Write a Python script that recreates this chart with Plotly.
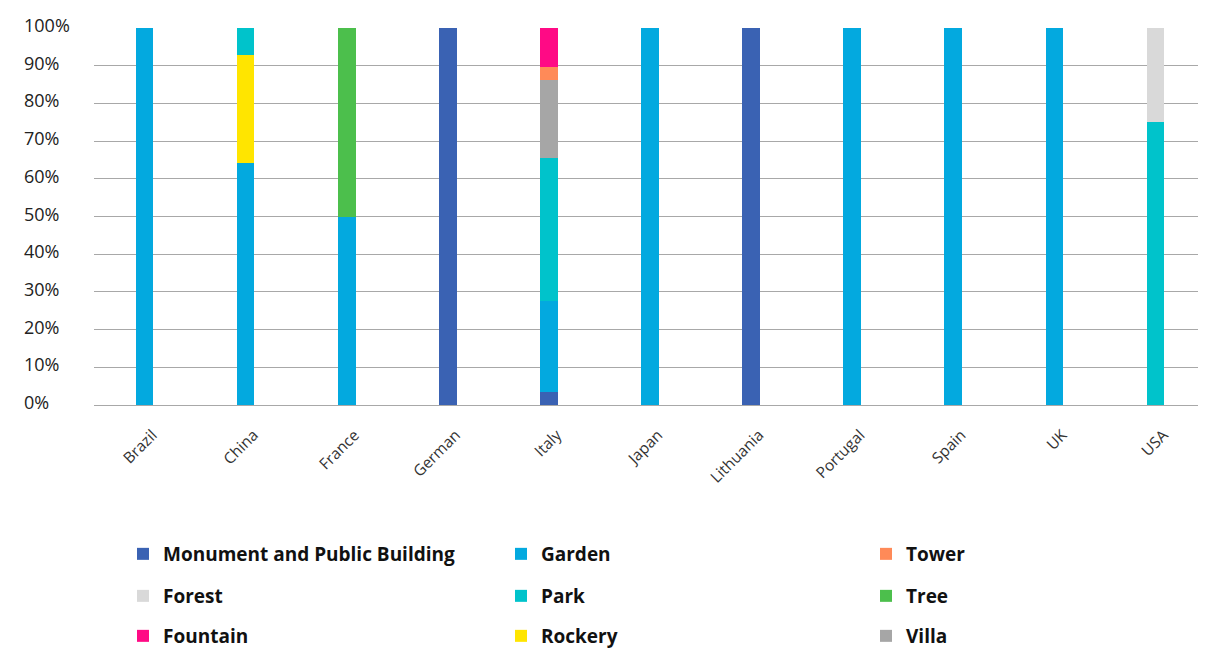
import plotly.graph_objects as go

countries = ["Brazil", "China", "France", "German", "Italy", "Japan",
             "Lithuania", "Portugal", "Spain", "UK", "USA"]

monument = [0, 0, 0, 100, 3.45, 0, 100, 0, 0, 0, 0]
garden   = [100, 64.29, 50, 0, 24.14, 100, 0, 100, 100, 100, 0]
rockery  = [0, 28.57, 0, 0, 0, 0, 0, 0, 0, 0, 0]
park     = [0, 7.14, 0, 0, 37.93, 0, 0, 0, 0, 0, 75]
villa    = [0, 0, 0, 0, 20.69, 0, 0, 0, 0, 0, 0]
tower    = [0, 0, 0, 0, 3.45, 0, 0, 0, 0, 0, 0]
fountain = [0, 0, 0, 0, 10.34, 0, 0, 0, 0, 0, 0]
forest   = [0, 0, 0, 0, 0, 0, 0, 0, 0, 0, 25]
tree     = [0, 0, 50, 0, 0, 0, 0, 0, 0, 0, 0]

ytick_vals = [0, 10, 20, 30, 40, 50, 60, 70, 80, 90, 100]
ytick_text = ["0%", "10%", "20%", "30%", "40%", "50%", "60%", "70%", "80%", "90%", "100%"]

# page has an 8px body margin
OFF = 8
W, H = 1206 - OFF, 650 - OFF
ml, mr, mt, mb = 94 - OFF, 0, 28 - OFF, 245
plot_h = H - mt - mb
plot_w = W - ml - mr

def py(page_y):
    return (H - mb - (page_y - OFF)) / plot_h

def px(page_x):
    return (page_x - OFF - ml) / plot_w

col_x = [123, 501, 866]
row_y = [554, 596, 636]

# (name, values, color, row, col) in stacking order
series = [
    ("Monument and Public Building", monument, "#3A62B3", 0, 0),
    ("Garden", garden, "#03A9DF", 0, 1),
    ("Rockery", rockery, "#FFE500", 2, 1),
    ("Park", park, "#00C3CB", 1, 1),
    ("Villa", villa, "#A6A6A6", 2, 2),
    ("Tower", tower, "#FF8A58", 0, 2),
    ("Fountain", fountain, "#FF0A85", 2, 0),
    ("Forest", forest, "#D9D9D9", 1, 0),
    ("Tree", tree, "#4CBF4C", 1, 2),
]

legend_font = dict(family="Open Sans", size=19, color="#111111", weight="bold")

fig = go.Figure()
legends = {}
for i, (name, vals, color, r, c) in enumerate(series):
    lg = "legend" if i == 0 else f"legend{i + 1}"
    fig.add_trace(go.Bar(
        x=countries, y=vals, name=name, marker=dict(color=color, line=dict(width=0)),
        width=0.175, legend=lg,
    ))
    legends[lg] = dict(orientation="h", font=legend_font, bgcolor="rgba(0,0,0,0)",
                       xanchor="left", yanchor="middle",
                       x=px(col_x[c]), y=py(row_y[r]), itemclick=False)

fig.update_layout(
    width=W, height=H,
    margin=dict(l=ml, r=mr, t=mt, b=mb, autoexpand=False),
    plot_bgcolor="white", paper_bgcolor="white",
    barmode="stack",
    font=dict(family="Open Sans", color="#222222"),
    xaxis=dict(tickangle=-45, tickfont=dict(size=15.5, color="#333333"),
               ticklabelstandoff=17, ticklabelshift=8,
               showgrid=False, showline=False, ticks="", range=[-0.5, 10.5]),
    yaxis=dict(range=[0, 100], tickvals=ytick_vals, showticklabels=False,
               showgrid=True, gridcolor="#A8A8A8", gridwidth=1,
               zeroline=True, zerolinecolor="#A8A8A8", zerolinewidth=1, showline=False),
    showlegend=True,
    **legends,
)

for v, t in zip(ytick_vals, ytick_text):
    fig.add_annotation(x=px(22), xref="paper", y=v, yref="y", text=t,
                       showarrow=False, xanchor="left", yanchor="middle",
                       yshift=3, font=dict(size=18, color="#222222", family="Open Sans"))

fig.write_html("out.html")
